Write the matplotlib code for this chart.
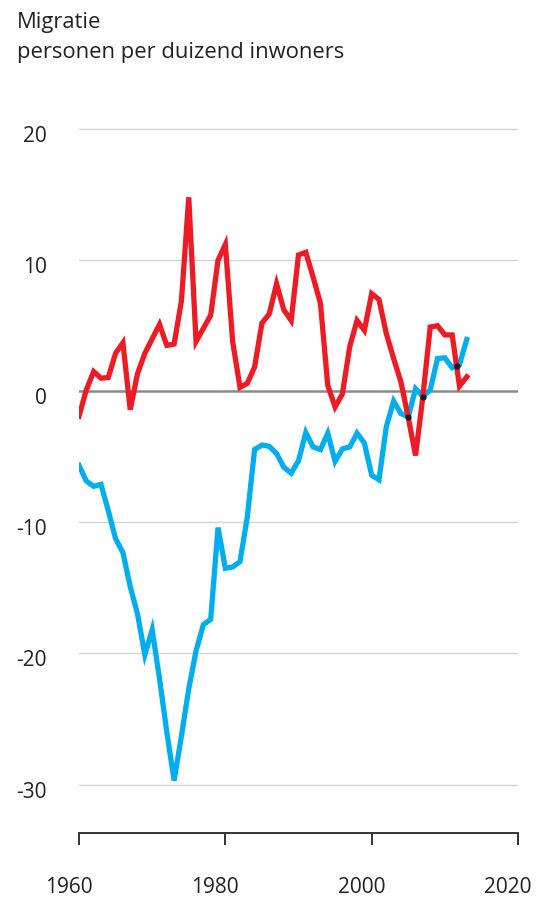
import numpy as np
import matplotlib
matplotlib.use('Agg')
from matplotlib import pyplot as plt
from matplotlib.transforms import ScaledTranslation

plt.rcParams['font.family'] = ['Open Sans', 'DejaVu Sans']

years = list(range(1960, 2014))

# rood
red = [-1.9, 0.1, 1.5, 1.0, 1.05, 2.9, 3.7, -1.4, 1.35, 2.9,
       4.0, 5.1, 3.5, 3.6, 6.9, 14.8, 3.8, 4.8, 5.8, 10.0,
       11.2, 3.8, 0.3, 0.6, 1.85, 5.2, 5.9, 8.2, 6.2, 5.4,
       10.4, 10.6, 8.7, 6.7, 0.45, -1.2, -0.2, 3.4, 5.4, 4.65,
       7.45, 7.0, 4.4, 2.5, 0.7, -2.0, -4.9, -0.4, 4.9, 5.0,
       4.3, 4.3, 0.4, 1.1]

# blauw
blue = [-5.65, -6.85, -7.25, -7.1, -9.1, -11.25, -12.3, -14.9, -17.0, -20.1,
        -18.2, -21.9, -26.0, -29.7, -26.3, -22.7, -19.8, -17.8, -17.4, -10.4,
        -13.5, -13.4, -13.0, -9.6, -4.45, -4.1, -4.2, -4.75, -5.8, -6.25,
        -5.3, -3.15, -4.25, -4.45, -3.2, -5.35, -4.4, -4.25, -3.2, -3.95,
        -6.4, -6.75, -2.7, -0.75, -1.7, -1.95, 0.2, -0.4, 0.1, 2.5,
        2.55, 1.8, 2.05, 3.95]

yticks = [20, 10, 0, -10, -20, -30]
xticks = [1960, 1980, 2000, 2020]

fig = plt.figure(figsize=(5.45, 9.07), dpi=100)
ax = fig.add_axes([79/545, (907-833)/907, (518-79)/545, (833-116)/907])

for v in yticks:
    if v == 0:
        ax.axhline(v, color='#8a8a8a', lw=1.8, zorder=1)
    else:
        ax.axhline(v, color='#d4d4d4', lw=1.0, zorder=1)

ax.plot(years, blue, color='#00AEEF', lw=3.8, solid_joinstyle='miter', zorder=3)
ax.plot(years, red, color='#ED1C24', lw=3.8, solid_joinstyle='miter', zorder=4)

# donkere plekken waar de lijnen elkaar kruisen
r = np.array(red)
b = np.array(blue)
x = np.array(years, dtype=float)
d = r - b
for i in range(len(d) - 1):
    if d[i] == 0:
        ax.plot(x[i], r[i], 'o', color='#1a1a2a', ms=4.5, mec='none', zorder=5)
    elif d[i] * d[i+1] < 0:
        t = d[i] / (d[i] - d[i+1])
        ax.plot(x[i] + t, r[i] + t*(r[i+1]-r[i]), 'o', color='#1a1a2a',
                ms=4.5, mec='none', zorder=5)

ax.set_xlim(1960, 2020)
ax.set_ylim(-33.7, 21)

for s in ['top', 'right', 'left']:
    ax.spines[s].set_visible(False)
ax.spines['bottom'].set_color('#333333')
ax.spines['bottom'].set_linewidth(1.4)

ax.set_xticks(xticks)
ax.set_xticklabels([str(t) for t in xticks])
ax.tick_params(axis='x', direction='out', length=8.5, width=1.4, color='#333333',
               pad=23, labelsize=15, labelcolor='#222222')
ax.set_yticks(yticks)
ax.set_yticklabels([str(t) for t in yticks])
ax.tick_params(axis='y', length=0, pad=23, labelsize=15, labelcolor='#222222')

for lab in ax.get_xticklabels():
    lab.set_transform(lab.get_transform() + ScaledTranslation(-0.1, 0, fig.dpi_scale_trans))
for lab in ax.get_yticklabels():
    lab.set_transform(lab.get_transform() + ScaledTranslation(0, -0.05, fig.dpi_scale_trans))

fig.text(17/545, 1 - 28/907, 'Migratie', fontsize=15.8, color='#222222', va='baseline')
fig.text(17/545, 1 - 58/907, 'personen per duizend inwoners', fontsize=15.8,
         color='#222222', va='baseline')

fig.savefig('out.png', dpi=100)
